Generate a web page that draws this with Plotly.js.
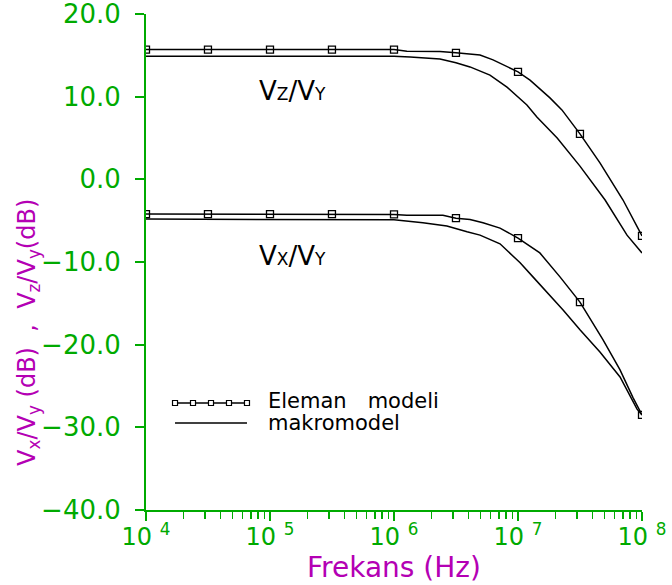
<!DOCTYPE html>
<html>
<head>
<meta charset="utf-8">
<script src="https://cdn.plot.ly/plotly-3.0.1.min.js"></script>
<style>html,body{margin:0;padding:0;background:#fff;}#chart{width:672px;height:585px;}</style>
</head>
<body>
<div id="chart"></div>
<script>
// ---- data ----
// Vz/Vy, "Eleman modeli" (line with square markers)
const vzElemanFreq = [1e4, 3.16e4, 1e5, 3.16e5, 1e6, 1.27e6, 2.35e6, 3.16e6, 4.94e6, 6.29e6, 8.15e6, 1e7, 1.25e7, 1.81e7, 2.26e7, 3.16e7, 4.58e7, 7.03e7, 1e8];
const vzElemanVal  = [15.7, 15.7, 15.7, 15.7, 15.7, 15.5, 15.45, 15.3, 15.05, 14.45, 13.6, 13.0, 12.0, 9.85, 8.4, 5.5, 2.0, -2.5, -6.85];
// Vz/Vy, "makromodel"
const vzMakroFreq = [1e4, 1e6, 1.35e6, 2.35e6, 3.16e6, 4.1e6, 5.94e6, 8.15e6, 1.18e7, 1.42e7, 2.07e7, 3.16e7, 5.04e7, 7.57e7, 1e8];
const vzMakroVal  = [14.9, 14.9, 14.8, 14.55, 14.1, 13.6, 12.6, 11.15, 9.0, 7.55, 5.0, 1.6, -2.5, -6.75, -8.9];
// Vx/Vy, "Eleman modeli"
const vxElemanFreq = [1e4, 3.16e4, 1e5, 3.16e5, 1e6, 1.27e6, 2.48e6, 3.16e6, 4.1e6, 5.22e6, 7.16e6, 1e7, 1.5e7, 2.18e7, 3.16e7, 4.84e7, 6.65e7, 8.46e7, 1e8];
const vxElemanVal  = [-4.2, -4.2, -4.2, -4.2, -4.25, -4.35, -4.35, -4.7, -4.85, -5.25, -5.9, -7.1, -8.9, -11.8, -14.85, -19.4, -23.05, -26.4, -28.5];
// Vx/Vy, "makromodel"
const vxMakroFreq = [1e4, 1e6, 1.71e6, 2.67e6, 3.88e6, 4.94e6, 7.16e6, 1.04e7, 1.32e7, 1.81e7, 2.31e7, 3.16e7, 4.58e7, 6.65e7, 9.12e7, 1e8];
const vxMakroVal  = [-4.8, -4.9, -5.25, -5.65, -6.35, -6.75, -7.8, -10.1, -11.8, -14.0, -15.8, -18.2, -20.9, -23.9, -27.8, -28.5];
// marker positions of "Eleman modeli" (half decades)
const markerFreq = [1e4, 3.16e4, 1e5, 3.16e5, 1e6, 3.16e6, 1e7, 3.16e7, 1e8];
const vzMarkerVal = [15.7, 15.7, 15.7, 15.7, 15.7, 15.3, 13.0, 5.5, -6.85];
const vxMarkerVal = [-4.2, -4.2, -4.2, -4.2, -4.25, -4.7, -7.1, -14.85, -28.5];

// axis ticks
const xTickVals = [1e4, 1e5, 1e6, 1e7, 1e8];
const xTickText = ['10\u00a0<sup>4</sup>', '10\u00a0<sup>5</sup>', '10\u00a0<sup>6</sup>', '10\u00a0<sup>7</sup>', '10\u00a0<sup>8</sup>'];
const yTickVals = [-40, -30, -20, -10, 0, 10, 20];
const yTickText = ['\u221240.0', '\u221230.0', '\u221220.0', '\u221210.0', '0.0', '10.0', '20.0'];

// ---- styling ----
const GREEN = 'rgb(0,170,0)';
const MAG = 'rgb(180,0,180)';
const FONT = 'DejaVu Sans, sans-serif';

const minorVals = [];
for (let d = 4; d < 8; d++) for (let m = 2; m <= 9; m++) minorVals.push(m * Math.pow(10, d));

const lineStyle = {color: 'black', width: 1.5};
const markStyle = {symbol: 'square-open', size: 7, color: 'black', line: {color: 'black', width: 1.3}};

const traces = [
  {x: vzElemanFreq, y: vzElemanVal, mode: 'lines', line: lineStyle, name: 'Eleman modeli', hoverinfo: 'skip'},
  {x: markerFreq, y: vzMarkerVal, mode: 'markers', marker: markStyle, name: 'Eleman modeli', hoverinfo: 'skip'},
  {x: vzMakroFreq, y: vzMakroVal, mode: 'lines', line: lineStyle, name: 'makromodel', hoverinfo: 'skip'},
  {x: vxElemanFreq, y: vxElemanVal, mode: 'lines', line: lineStyle, name: 'Eleman modeli', hoverinfo: 'skip'},
  {x: markerFreq, y: vxMarkerVal, mode: 'markers', marker: markStyle, name: 'Eleman modeli', hoverinfo: 'skip'},
  {x: vxMakroFreq, y: vxMakroVal, mode: 'lines', line: lineStyle, name: 'makromodel', hoverinfo: 'skip'}
];

// legend sample (decoration) in paper coordinates
const legX0 = 0.0585, legX1 = 0.2036, legY1 = 0.2157, legY2 = 0.1754;
const shapes = [
  {type: 'line', xref: 'paper', yref: 'paper', x0: legX0, x1: legX1, y0: legY1, y1: legY1, line: {color: 'black', width: 1.3}},
  {type: 'line', xref: 'paper', yref: 'paper', x0: legX0, x1: legX1, y0: legY2, y1: legY2, line: {color: 'black', width: 1.3}}
];
for (let i = 0; i < 5; i++) {
  const px = legX0 + i * (legX1 - legX0) / 4;
  shapes.push({type: 'rect', xref: 'paper', yref: 'paper', xsizemode: 'pixel', ysizemode: 'pixel',
    xanchor: px, yanchor: legY1, x0: -2.5, x1: 2.5, y0: -2.5, y1: 2.5,
    line: {color: 'black', width: 1.2}, fillcolor: 'white'});
}

const sub = s => "<span style='font-size:17px'>" + s + "</span>";
const ysub = s => "<sub>" + s + "</sub>";

const layout = {
  width: 672, height: 585,
  margin: {l: 146, r: 30, t: 14, b: 75},
  paper_bgcolor: 'white', plot_bgcolor: 'white',
  showlegend: false,
  font: {family: FONT, color: GREEN},
  xaxis: {
    type: 'log', range: [4, 8],
    tickmode: 'array', tickvals: xTickVals, ticktext: xTickText,
    ticks: 'outside', ticklen: 9, tickwidth: 2, tickcolor: GREEN,
    ticklabelstandoff: -5, ticklabeloverflow: 'allow',
    minor: {tickmode: 'array', tickvals: minorVals, ticks: 'outside', ticklen: 7, tickwidth: 1.5, tickcolor: GREEN, showgrid: false},
    showline: true, linecolor: GREEN, linewidth: 2,
    showgrid: false, zeroline: false,
    tickfont: {family: FONT, size: 24, color: GREEN}
  },
  yaxis: {
    range: [-40, 20.001],
    tickmode: 'array', tickvals: yTickVals, ticktext: yTickText,
    ticks: 'outside', ticklen: 9, tickwidth: 2, tickcolor: GREEN,
    ticklabelstandoff: 9, ticklabeloverflow: 'allow',
    showline: true, linecolor: GREEN, linewidth: 2,
    showgrid: false, zeroline: false,
    tickfont: {family: FONT, size: 26, color: GREEN}
  },
  shapes: shapes,
  annotations: [
    {xref: 'paper', yref: 'paper', x: 0.5, y: -0.115, showarrow: false,
     xanchor: 'center', yanchor: 'middle',
     text: 'Frekans (Hz)', font: {family: FONT, size: 28, color: MAG}},
    {xref: 'paper', yref: 'paper', x: -0.236, y: 0.359, textangle: -90, showarrow: false,
     xanchor: 'center', yanchor: 'middle',
     text: 'V' + ysub('x') + '/V' + ysub('y') + ' (dB)  ,  V' + ysub('z') + '/V' + ysub('y') + '(dB)',
     font: {family: FONT, size: 24, color: MAG}},
    {xref: 'x', yref: 'y', x: Math.log10(1.53e5), y: 10.7, showarrow: false, xanchor: 'center', yanchor: 'middle',
     text: 'V' + sub('Z') + '/V' + sub('Y'), font: {family: FONT, size: 26, color: 'black'}},
    {xref: 'x', yref: 'y', x: Math.log10(1.53e5), y: -9.3, showarrow: false, xanchor: 'center', yanchor: 'middle',
     text: 'V' + sub('X') + '/V' + sub('Y'), font: {family: FONT, size: 26, color: 'black'}},
    {xref: 'paper', yref: 'paper', x: 0.242, y: 0.2197, showarrow: false, xanchor: 'left', yanchor: 'middle',
     text: 'Eleman\u2003modeli', font: {family: FONT, size: 21, color: 'black'}},
    {xref: 'paper', yref: 'paper', x: 0.242, y: 0.175, showarrow: false, xanchor: 'left', yanchor: 'middle',
     text: 'makromodel', font: {family: FONT, size: 21, color: 'black'}}
  ]
};

Plotly.newPlot('chart', traces, layout, {staticPlot: true, displayModeBar: false});
</script>
</body>
</html>
